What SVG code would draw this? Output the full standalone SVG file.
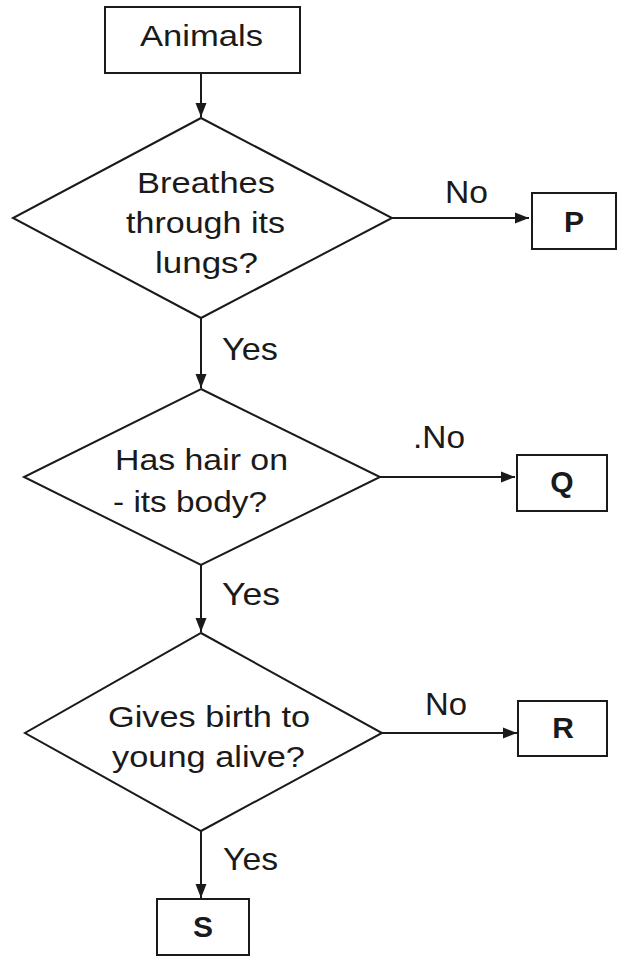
<svg xmlns="http://www.w3.org/2000/svg" width="621" height="957" viewBox="0 0 621 957">
<defs>
<style>
.shape{fill:#fff;stroke:#1a1a1a;stroke-width:2}
.edge{fill:none;stroke:#1a1a1a;stroke-width:2}
text{font-family:"Liberation Sans",Arial,sans-serif;fill:#1a1a1a;font-size:30px}
.lab{font-size:32px}
.let{font-size:30px;font-weight:bold}
</style>
<marker id="arr" markerWidth="14" markerHeight="12" refX="14" refY="6" orient="auto" markerUnits="userSpaceOnUse">
<path d="M0,0.5 L14,6 L0,11.5 Z" fill="#1a1a1a"/>
</marker>
</defs>
<rect width="621" height="957" fill="#fff"/>
<g id="connectors">
<line class="edge" x1="201" y1="73" x2="201" y2="117" marker-end="url(#arr)"/>
<line class="edge" x1="392" y1="218" x2="529" y2="218" marker-end="url(#arr)"/>
<line class="edge" x1="201" y1="318" x2="201" y2="388" marker-end="url(#arr)"/>
<line class="edge" x1="380" y1="477" x2="515" y2="477" marker-end="url(#arr)"/>
<line class="edge" x1="201" y1="565" x2="201" y2="632" marker-end="url(#arr)"/>
<line class="edge" x1="382" y1="733" x2="517" y2="733" marker-end="url(#arr)"/>
<line class="edge" x1="201" y1="831" x2="201" y2="898" marker-end="url(#arr)"/>
<text class="lab" x="445" y="203" textLength="43" lengthAdjust="spacingAndGlyphs">No</text>
<text class="lab" x="222" y="360" textLength="56" lengthAdjust="spacingAndGlyphs">Yes</text>
<text class="lab" x="413" y="448" textLength="52" lengthAdjust="spacingAndGlyphs">.No</text>
<text class="lab" x="222" y="605" textLength="58" lengthAdjust="spacingAndGlyphs">Yes</text>
<text class="lab" x="425" y="715" textLength="42" lengthAdjust="spacingAndGlyphs">No</text>
<text class="lab" x="223" y="870" textLength="55" lengthAdjust="spacingAndGlyphs">Yes</text>
</g>
<g id="animals">
<rect class="shape" x="105" y="7" width="195" height="66"/>
<text x="140" y="46" textLength="123" lengthAdjust="spacingAndGlyphs">Animals</text>
</g>
<g id="lungs">
<polygon class="shape" points="201,118 392,218 201,318 13,218"/>
<text x="137" y="193" textLength="138" lengthAdjust="spacingAndGlyphs">Breathes</text>
<text x="126" y="233" textLength="159" lengthAdjust="spacingAndGlyphs">through its</text>
<text x="155" y="273" textLength="103" lengthAdjust="spacingAndGlyphs">lungs?</text>
</g>
<g id="p">
<rect class="shape" x="532" y="193" width="84" height="56"/>
<text class="let" x="574" y="232" text-anchor="middle">P</text>
</g>
<g id="hair">
<polygon class="shape" points="201,389 380,477 201,565 24,477"/>
<text x="115" y="470" textLength="173" lengthAdjust="spacingAndGlyphs">Has hair on</text>
<text x="113" y="512" textLength="154" lengthAdjust="spacingAndGlyphs">- its body?</text>
</g>
<g id="q">
<rect class="shape" x="517" y="455" width="90" height="56"/>
<text class="let" x="562" y="492" text-anchor="middle">Q</text>
</g>
<g id="birth">
<polygon class="shape" points="201,633 382,733 201,831 25,733"/>
<text x="108" y="727" textLength="202" lengthAdjust="spacingAndGlyphs">Gives birth to</text>
<text x="112" y="767" textLength="193" lengthAdjust="spacingAndGlyphs">young alive?</text>
</g>
<g id="r">
<rect class="shape" x="518" y="701" width="89" height="55"/>
<text class="let" x="563" y="738" text-anchor="middle">R</text>
</g>
<g id="s">
<rect class="shape" x="157" y="899" width="92" height="56"/>
<text class="let" x="203" y="937" text-anchor="middle">S</text>
</g>
</svg>
